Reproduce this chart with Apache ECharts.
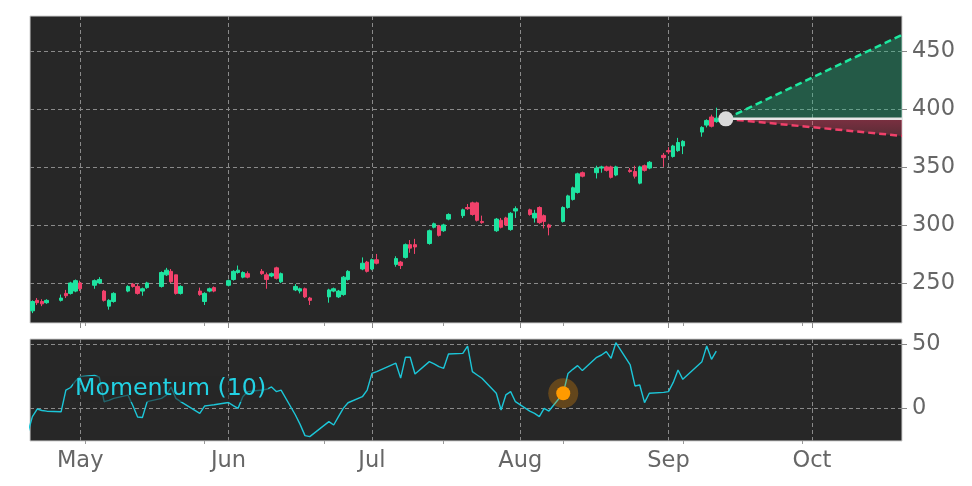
<!DOCTYPE html>
<html lang="en">
<head>
    <meta charset="UTF-8">
    <title>Momentum (10)</title>
    <script src="https://cdn.jsdelivr.net/npm/echarts@6.0.0/dist/echarts.min.js"></script>
    <style>
        html, body { margin: 0; padding: 0; background: #fff; }
        #main { width: 972px; height: 486px; }
    </style>
</head>
<body>
<div id="main"></div>
<script>
    // trading days shown on the chart (2020)
    var dates = [
        '2020-04-20', '2020-04-21', '2020-04-22', '2020-04-23', '2020-04-24',
        '2020-04-27', '2020-04-28', '2020-04-29', '2020-04-30', '2020-05-01',
        '2020-05-04', '2020-05-05', '2020-05-06', '2020-05-07', '2020-05-08',
        '2020-05-11', '2020-05-12', '2020-05-13', '2020-05-14', '2020-05-15',
        '2020-05-18', '2020-05-19', '2020-05-20', '2020-05-21', '2020-05-22',
        '2020-05-26', '2020-05-27', '2020-05-28', '2020-05-29',
        '2020-06-01', '2020-06-02', '2020-06-03', '2020-06-04', '2020-06-05',
        '2020-06-08', '2020-06-09', '2020-06-10', '2020-06-11', '2020-06-12',
        '2020-06-15', '2020-06-16', '2020-06-17', '2020-06-18',
        '2020-06-22', '2020-06-23', '2020-06-24', '2020-06-25', '2020-06-26',
        '2020-06-29', '2020-06-30', '2020-07-01', '2020-07-02',
        '2020-07-06', '2020-07-07', '2020-07-08', '2020-07-09', '2020-07-10',
        '2020-07-13', '2020-07-14', '2020-07-15', '2020-07-16', '2020-07-17',
        '2020-07-20', '2020-07-21', '2020-07-22', '2020-07-23', '2020-07-24',
        '2020-07-27', '2020-07-28', '2020-07-29', '2020-07-30', '2020-07-31',
        '2020-08-03', '2020-08-04', '2020-08-05', '2020-08-06', '2020-08-07',
        '2020-08-10', '2020-08-11', '2020-08-12', '2020-08-13', '2020-08-14',
        '2020-08-17', '2020-08-18', '2020-08-19', '2020-08-20', '2020-08-21',
        '2020-08-24', '2020-08-25', '2020-08-26', '2020-08-27', '2020-08-28',
        '2020-08-31', '2020-09-01', '2020-09-02', '2020-09-03', '2020-09-04',
        '2020-09-08', '2020-09-09', '2020-09-10', '2020-09-11'
    ];
    var opens = [
        224, 226, 235, 234, 233,
        235, 241, 241, 243, 250,
        248, 250, 243, 230, 234,
        243, 249, 247, 243, 246,
        247, 257, 260, 257, 241,
        243, 234, 243, 246,
        248, 253, 259, 255, 258,
        260, 257, 256, 263, 251,
        244, 243, 245, 237,
        238, 243, 238, 240, 253,
        262, 268, 262, 270,
        266, 268, 272, 283, 283,
        284, 298, 299, 295, 305,
        308, 315, 319, 319, 303,
        295, 304, 306, 296, 312,
        313, 306, 315, 308, 300,
        303, 315, 322, 328, 345,
        345, 349, 350, 350, 343,
        347, 346, 336, 351, 349,
        360, 364, 359, 364, 368,
        380, 386, 393, 389
    ];
    var closes = [
        228, 234, 233, 232, 235,
        237, 239, 250, 252, 245,
        252, 253, 235, 235, 241,
        247, 247, 241, 245, 250,
        259, 261, 251, 241, 247,
        240, 241, 245, 243,
        252, 260, 261, 259, 255,
        258, 253, 258, 254, 258,
        247, 245, 238, 235,
        244, 245, 243, 255, 260,
        267, 260, 270, 267,
        271, 265, 283, 280, 281,
        295, 301, 291, 300, 309,
        313, 314, 309, 304, 302,
        305, 298, 300, 310, 314,
        309, 310, 302, 303, 298,
        315, 325, 332, 344, 342,
        349, 350, 347, 341, 350,
        346, 342, 350, 347, 354,
        358, 363, 368, 371, 372,
        384, 390, 385, 392
    ];
    var lows = [
        222, 224, 231, 230, 232,
        234, 237, 240, 242, 243,
        245, 249, 234, 227, 233,
        242, 246, 240, 239, 245,
        246, 256, 250, 240, 240,
        239, 231, 242, 242,
        247, 252, 258, 254, 254,
        257, 245, 255, 253, 250,
        243, 241, 237, 231,
        233, 242, 237, 239, 252,
        261, 259, 261, 266,
        264, 262, 271, 276, 275,
        283, 297, 290, 294, 304,
        306, 313, 308, 303, 301,
        294, 297, 299, 295, 306,
        308, 302, 301, 297, 291,
        302, 314, 321, 327, 341,
        340, 345, 346, 340, 342,
        345, 340, 335, 346, 348,
        350, 361, 358, 363, 361,
        376, 384, 384, 388
    ];
    var highs = [
        229, 235, 237, 236, 236,
        240, 244, 251, 253, 252,
        253, 255, 244, 236, 242,
        248, 250, 249, 246, 251,
        260, 263, 262, 257, 248,
        246, 242, 246, 247,
        253, 261, 265, 260, 260,
        262, 259, 259, 264, 259,
        249, 246, 246, 238,
        245, 246, 244, 256, 261,
        272, 269, 271, 275,
        273, 269, 284, 287, 288,
        296, 302, 300, 301, 310,
        314, 318, 320, 320, 308,
        306, 306, 307, 311, 316,
        314, 313, 316, 309, 301,
        316, 326, 333, 345, 346,
        351, 351, 351, 351, 351,
        349, 351, 351, 352, 355,
        362, 367, 369, 375, 373,
        385, 391, 395, 401
    ];
    var momentum = [
        -20, -6.8, -0.8, -2, -2.5,
        -3, 14, 16, 21, 24.5,
        25.5, 24, 5, 6, 7.5,
        10, 2, -7, -7.4, 5,
        7.5, 10, 16.4, 7.5, 5,
        -4.2, 1.5, 2, 2.5,
        4.3, 1.8, -0.3, 8.8, 12.8,
        14, 14.6, 16.4, 12.8, 14,
        -5.5, -13, -21.6, -22.4,
        -10.7, -13.3, -6.8, -0.3, 4.1,
        8.8, 14, 27, 28.4,
        35, 23.3, 39.6, 39.6, 26.6,
        36.2, 34.4, 32.3, 31, 42.2,
        42.7, 48.4, 28.4, 25.8, 23.2,
        11.5, -1.6, 10.2, 12.8, 4.9,
        -2.4, -4.2, -6.8, -0.3, -2.4,
        11.5, 27, 30.2, 33.1, 29.2,
        39.6, 41.4, 44, 38.8, 51,
        33.6, 17.2, 18, 4.2, 11.5,
        12.2, 12.8, 20, 29.7, 22.4,
        36.2, 48.4, 38, 44.5
    ];

    // axis ticks
    var monthTicks = ['2020-05-01', '2020-06-01', '2020-07-01', '2020-08-01', '2020-09-01', '2020-10-01'];
    var minorTicks = ['2020-05-02', '2020-05-27', '2020-06-21', '2020-07-16', '2020-08-10', '2020-09-04', '2020-09-29'];
    var monthNames = ['Jan', 'Feb', 'Mar', 'Apr', 'May', 'Jun', 'Jul', 'Aug', 'Sep', 'Oct', 'Nov', 'Dec'];
    var priceTicks = [250, 300, 350, 400, 450];
    var momentumTicks = [0, 50];

    // forecast cone: start point -> axis end
    var coneDates = ['2020-09-13T00:00:00', '2020-10-19T20:00:00'];
    var coneMid = [391.4, 391.4];
    var coneUpper = [391.4, 463.8];
    var coneLower = [391.4, 376.7];

    // highlighted momentum point
    var signalDate = '2020-08-10';
    var signalValue = 11.5;

    function ts(s) {
        return new Date(s.length > 10 ? s : s + 'T00:00:00').getTime();
    }

    var xMin = ts('2020-04-20T12:00:00');
    var xMax = ts(coneDates[1]);
    var monthTs = monthTicks.map(ts);
    var minorTs = minorTicks.map(ts);

    var gridLine = { color: '#8a8a8a', type: [4, 3], width: 1 };
    var labelFont = { color: '#666666', fontSize: 22.5, fontFamily: 'DejaVu Sans' };

    // x is a plain value axis holding timestamps, so the month ticks can be fixed
    function xAxisFor(gridIndex, showLabel) {
        return {
            type: 'value',
            gridIndex: gridIndex,
            position: 'bottom',
            min: xMin,
            max: xMax,
            axisLine: { show: false },
            axisTick: { show: true, customValues: monthTs, length: 5, lineStyle: { color: '#888' } },
            axisLabel: Object.assign({
                show: showLabel,
                customValues: monthTs,
                margin: 9,
                formatter: function (v) { return monthNames[new Date(v).getMonth()]; }
            }, labelFont),
            splitLine: { show: true, lineStyle: gridLine }
        };
    }

    // extra axis only for the small in-between ticks
    function minorAxisFor(gridIndex) {
        return {
            type: 'value',
            gridIndex: gridIndex,
            position: 'bottom',
            min: xMin,
            max: xMax,
            axisLine: { show: false },
            axisTick: { show: true, customValues: minorTs, length: 3, lineStyle: { color: '#999' } },
            axisLabel: { show: false },
            splitLine: { show: false }
        };
    }

    function yAxisFor(gridIndex, min, max, ticks) {
        return {
            type: 'value',
            gridIndex: gridIndex,
            position: 'right',
            min: min,
            max: max,
            axisLine: { show: false },
            axisTick: { show: true, customValues: ticks, length: 5, lineStyle: { color: '#888' } },
            axisLabel: Object.assign({ customValues: ticks, margin: 10 }, labelFont),
            splitLine: { show: true, lineStyle: gridLine }
        };
    }

    var candles = dates.map(function (d, i) {
        return [ts(d), opens[i], closes[i], lows[i], highs[i]];
    });
    var momentumLine = dates.map(function (d, i) {
        return [ts(d), momentum[i]];
    });
    var coneT = coneDates.map(ts);

    var myChart = echarts.init(document.getElementById('main'), null, { renderer: 'canvas' });
    var option = {
        animation: false,
        backgroundColor: '#ffffff',
        grid: [
            { left: 30, right: 70, top: 16, height: 307, show: true, backgroundColor: '#272727', borderColor: '#d0d0d0', borderWidth: 1 },
            { left: 30, right: 70, top: 339, height: 102, show: true, backgroundColor: '#272727', borderColor: '#d0d0d0', borderWidth: 1 }
        ],
        xAxis: [xAxisFor(0, false), xAxisFor(1, true), minorAxisFor(0), minorAxisFor(1)],
        yAxis: [
            yAxisFor(0, 215.5, 480, priceTicks),
            yAxisFor(1, -25.8, 53.9, momentumTicks)
        ],
        graphic: [{
            type: 'text',
            left: 73,
            top: 376,
            z: 100,
            style: {
                text: 'Momentum (10)',
                fill: '#22d2e4',
                font: '23.7px "DejaVu Sans"',
                backgroundColor: 'rgba(39,39,39,0.6)',
                padding: [1, 2]
            }
        }],
        series: [
            {
                type: 'candlestick',
                xAxisIndex: 0,
                yAxisIndex: 0,
                barWidth: 4,
                encode: { x: 0, y: [1, 2, 3, 4] },
                itemStyle: {
                    color: '#1ee3a0',
                    color0: '#f2416b',
                    borderColor: '#1ee3a0',
                    borderColor0: '#f2416b',
                    borderWidth: 1
                },
                data: candles
            },
            {
                // cone fills
                type: 'custom',
                xAxisIndex: 0,
                yAxisIndex: 0,
                silent: true,
                z: 1,
                data: [[coneT[0], coneMid[0]]],
                renderItem: function (params, api) {
                    var s = api.coord([coneT[0], coneMid[0]]);
                    var e = api.coord([coneT[1], coneMid[1]]);
                    var u = api.coord([coneT[1], coneUpper[1]]);
                    var d = api.coord([coneT[1], coneLower[1]]);
                    return {
                        type: 'group',
                        children: [
                            { type: 'polygon', shape: { points: [s, u, e] }, style: { fill: 'rgba(30,200,140,0.32)' } },
                            {
                                type: 'polygon', shape: { points: [s, e, d] },
                                style: {
                                    fill: new echarts.graphic.LinearGradient(0, 0, 0, 1, [
                                        { offset: 0, color: 'rgba(240,60,100,0.42)' },
                                        { offset: 1, color: 'rgba(240,60,100,0.25)' }
                                    ])
                                }
                            }
                        ]
                    };
                }
            },
            {
                type: 'line',
                xAxisIndex: 0,
                yAxisIndex: 0,
                symbol: 'none',
                z: 3,
                lineStyle: { color: '#1de9a0', width: 2.5, type: [7, 4] },
                data: [[coneT[0], coneUpper[0]], [coneT[1], coneUpper[1]]]
            },
            {
                type: 'line',
                xAxisIndex: 0,
                yAxisIndex: 0,
                symbol: 'none',
                z: 3,
                lineStyle: { color: '#f0406a', width: 2.5, type: [7, 4] },
                data: [[coneT[0], coneLower[0]], [coneT[1], coneLower[1]]]
            },
            {
                type: 'line',
                xAxisIndex: 0,
                yAxisIndex: 0,
                symbol: 'none',
                z: 4,
                lineStyle: { color: '#e6e6e6', width: 2.5 },
                data: [[coneT[0], coneMid[0]], [coneT[1], coneMid[1]]]
            },
            {
                type: 'scatter',
                xAxisIndex: 0,
                yAxisIndex: 0,
                z: 5,
                symbolSize: 15,
                itemStyle: { color: '#dadada', opacity: 1 },
                data: [[coneT[0], coneMid[0]]]
            },
            {
                type: 'line',
                xAxisIndex: 1,
                yAxisIndex: 1,
                symbol: 'none',
                lineStyle: { color: '#1cc6d8', width: 1.4 },
                data: momentumLine
            },
            {
                type: 'scatter',
                xAxisIndex: 1,
                yAxisIndex: 1,
                z: 5,
                symbolSize: 30,
                itemStyle: { color: 'rgba(255,150,0,0.28)', opacity: 1 },
                data: [[ts(signalDate), signalValue]]
            },
            {
                type: 'scatter',
                xAxisIndex: 1,
                yAxisIndex: 1,
                z: 6,
                symbolSize: 14,
                itemStyle: { color: '#ff9a00', opacity: 1 },
                data: [[ts(signalDate), signalValue]]
            }
        ]
    };
    myChart.setOption(option);
</script>
</body>
</html>
